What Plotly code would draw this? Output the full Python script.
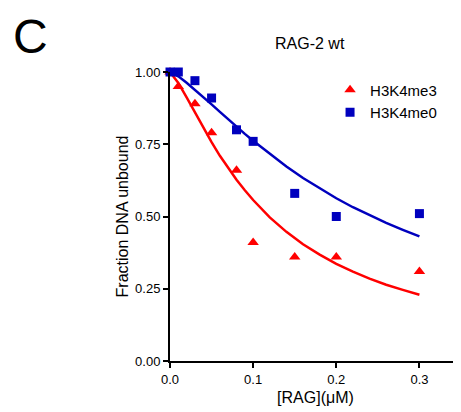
import plotly.graph_objects as go

# Measured points
x_pts = [0.0, 0.01, 0.03, 0.05, 0.08, 0.10, 0.15, 0.20, 0.30]
me3_pts = [1.00, 0.95, 0.89, 0.79, 0.66, 0.41, 0.36, 0.36, 0.31]
me0_pts = [1.00, 1.00, 0.97, 0.91, 0.80, 0.76, 0.58, 0.50, 0.51]

# Fitted curves
x_fit = [0.0, 0.01, 0.02, 0.03, 0.04, 0.05, 0.06, 0.07, 0.08, 0.09, 0.10,
         0.12, 0.14, 0.16, 0.18, 0.20, 0.22, 0.24, 0.26, 0.28, 0.30]
me3_fit = [1.000, 0.962, 0.912, 0.859, 0.807, 0.757, 0.710, 0.667, 0.627, 0.591, 0.557,
           0.497, 0.447, 0.404, 0.368, 0.336, 0.309, 0.285, 0.264, 0.246, 0.229]
me0_fit = [1.000, 0.985, 0.963, 0.939, 0.914, 0.888, 0.862, 0.836, 0.811, 0.786, 0.762,
           0.716, 0.673, 0.633, 0.597, 0.563, 0.532, 0.504, 0.478, 0.454, 0.431]

x_ticks = [0.0, 0.1, 0.2, 0.3]
x_ticklabels = ["0.0", "0.1", "0.2", "0.3"]
y_ticks = [0.0, 0.25, 0.5, 0.75, 1.0]
y_ticklabels = ["0.00", "0.25", "0.50", "0.75", "1.00"]

RED = "#FF0000"
BLUE = "#0000BE"
FONT = "Liberation Sans, Arial, Helvetica, sans-serif"

fig = go.Figure()
fig.add_trace(go.Scatter(x=x_fit, y=me3_fit, mode="lines", line=dict(color=RED, width=2.5),
                         showlegend=False, hoverinfo="skip", cliponaxis=False))
fig.add_trace(go.Scatter(x=x_fit, y=me0_fit, mode="lines", line=dict(color=BLUE, width=2.5),
                         showlegend=False, hoverinfo="skip", cliponaxis=False))
fig.add_trace(go.Scatter(x=x_pts, y=me3_pts, mode="markers", name="H3K4me3",
                         marker=dict(symbol="triangle-up", size=10, color=RED), cliponaxis=False))
fig.add_trace(go.Scatter(x=x_pts, y=me0_pts, mode="markers", name="H3K4me0",
                         marker=dict(symbol="square", size=9, color=BLUE), cliponaxis=False))

fig.update_layout(
    width=453, height=404,
    margin=dict(l=162, r=0, t=64, b=51, pad=0),
    paper_bgcolor="white", plot_bgcolor="white",
    font=dict(family=FONT, color="black", size=13),
    legend=dict(x=0.55, y=0.995, xanchor="left", yanchor="top",
                font=dict(size=15, family=FONT), bgcolor="rgba(0,0,0,0)"),
    xaxis=dict(range=[0, 0.35], tickvals=x_ticks, ticktext=x_ticklabels,
               showline=True, linecolor="black", linewidth=2, showgrid=False, zeroline=False,
               ticks="outside", ticklen=5, tickwidth=2, tickcolor="black",
               tickfont=dict(size=13),
               title=dict(text="[RAG](μM)", font=dict(size=16), standoff=6)),
    yaxis=dict(range=[0, 1.0], tickvals=y_ticks, ticktext=y_ticklabels,
               showline=True, linecolor="black", linewidth=2, showgrid=False, zeroline=False,
               ticks="outside", ticklen=5, tickwidth=2, tickcolor="black",
               tickfont=dict(size=13),
               title=dict(text="Fraction DNA unbound", font=dict(size=16), standoff=2)),
    annotations=[
        dict(text="RAG-2 wt", x=0.480, y=1.10, xref="paper", yref="paper",
             xanchor="center", yanchor="middle", showarrow=False, font=dict(size=16)),
        dict(text="C", x=-0.478, y=1.2215, xref="paper", yref="paper",
             xanchor="center", yanchor="top", showarrow=False, font=dict(size=48)),
    ],
)

fig.write_html("out.html")
